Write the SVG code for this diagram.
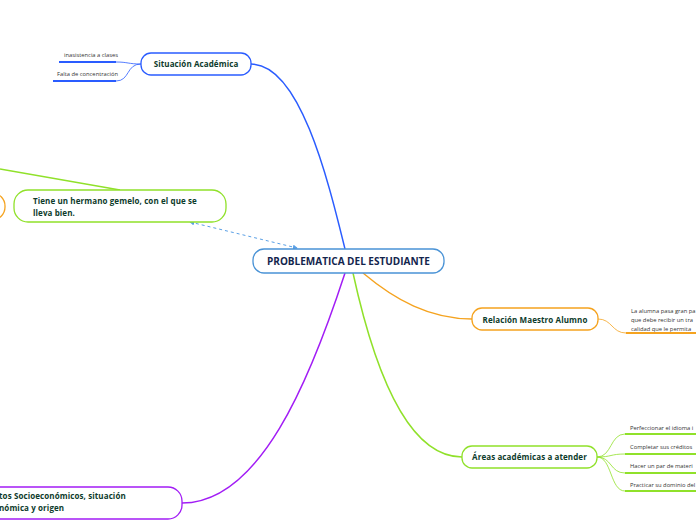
<svg xmlns="http://www.w3.org/2000/svg" width="696" height="520" viewBox="0 0 696 520">
<style>
.node{fill:#fff;stroke-width:1.3}
.t{font-family:"Open Sans","Noto Sans","DejaVu Sans",sans-serif;font-weight:bold;font-size:8px;letter-spacing:0.1px;fill:#0d3b2b}
.c{font-family:"Open Sans","Noto Sans","DejaVu Sans",sans-serif;font-weight:bold;font-size:10px;fill:#13254d}
.s{font-family:"Open Sans","Noto Sans","DejaVu Sans",sans-serif;font-size:5.8px;fill:#333}
.con{fill:none}
</style>
<defs>
<marker id="ah" viewBox="0 0 6 6" refX="5" refY="3" markerWidth="5" markerHeight="5" orient="auto-start-reverse">
<path d="M0,0 L6,3 L0,6 z" fill="#5aa0e6"/>
</marker>
</defs>
<rect width="696" height="520" fill="#fff"/>
<g id="connectors">
<path class="con" d="M251,64 C300,64 328,180 345,249" stroke="#2a5cff" stroke-width="1.5"/>
<path class="con" d="M363,273 C395,300 430,319 472,319" stroke="#f5a31f" stroke-width="1.4"/>
<path class="con" d="M353,273 C372,360 405,457 462,457" stroke="#90e12a" stroke-width="1.5"/>
<path class="con" d="M345,273 C310,380 260,503 182,503" stroke="#a21df5" stroke-width="1.5"/>
<line x1="0" y1="169" x2="120" y2="190" stroke="#90e12a" stroke-width="1.3"/>
<path class="con" d="M190,222 L297,248" stroke="#5aa0e6" stroke-width="1" stroke-dasharray="3,3" marker-start="url(#ah)" marker-end="url(#ah)"/>
<path class="con" d="M141,64 C128,64 128,62 116,62" stroke="#2a5cff" stroke-width="0.8"/>
<path class="con" d="M141,64 C126,64 130,81 116,81" stroke="#2a5cff" stroke-width="0.8"/>
<path class="con" d="M598,319 C612,319 612,333 626,333" stroke="#f5a31f" stroke-width="0.8"/>
<path class="con" d="M597,457 C612,457 610,434 625,434" stroke="#90e12a" stroke-width="0.8"/>
<path class="con" d="M597,457 C612,457 610,454 625,454" stroke="#90e12a" stroke-width="0.8"/>
<path class="con" d="M597,457 C612,457 610,473 625,473" stroke="#90e12a" stroke-width="0.8"/>
<path class="con" d="M597,457 C612,457 610,491 625,491" stroke="#90e12a" stroke-width="0.8"/>
</g>
<g id="center">
<rect class="node" x="253" y="249" width="191" height="24" rx="11" stroke="#4a93d6"/>
<text class="c" x="348.5" y="264.5" text-anchor="middle">PROBLEMATICA DEL ESTUDIANTE</text>
</g>
<g id="situacion">
<rect class="node" x="141" y="53" width="110" height="22" rx="10" stroke="#2a5cff"/>
<text class="t" x="196" y="67" text-anchor="middle">Situación Académica</text>
</g>
<g id="inasistencia">
<line x1="59" y1="62" x2="116" y2="62" stroke="#2a5cff" stroke-width="2"/>
<text class="s" x="64" y="57">inasistencia a clases</text>
</g>
<g id="falta">
<line x1="53" y1="81" x2="116" y2="81" stroke="#2a5cff" stroke-width="2"/>
<text class="s" x="57" y="76">Falta de concentración</text>
</g>
<g id="hermano">
<rect class="node" x="14" y="190" width="212" height="32" rx="14" stroke="#90e12a"/>
<text class="t" x="33" y="204">Tiene un hermano gemelo, con el que se</text>
<text class="t" x="33" y="215.5">lleva bien.</text>
</g>
<g id="orange-left">
<rect class="node" x="-100" y="193" width="105" height="27" rx="13" stroke="#f5a31f"/>
</g>
<g id="relacion">
<rect class="node" x="472" y="308" width="126" height="22" rx="10" stroke="#f5a31f"/>
<text class="t" x="535" y="322.5" text-anchor="middle">Relación Maestro Alumno</text>
</g>
<g id="relacion-text">
<line x1="626" y1="333" x2="696" y2="333" stroke="#f5a31f" stroke-width="2"/>
<text class="s" x="631" y="313">La alumna pasa gran pa</text>
<text class="s" x="631" y="322">que  debe recibir un tra</text>
<text class="s" x="631" y="331">calidad que le permita</text>
</g>
<g id="areas">
<rect class="node" x="462" y="446" width="135" height="22" rx="10" stroke="#90e12a"/>
<text class="t" x="529.5" y="460" text-anchor="middle">Áreas académicas a atender</text>
</g>
<g id="perfeccionar">
<line x1="625" y1="434" x2="696" y2="434" stroke="#90e12a" stroke-width="2"/>
<text class="s" x="630" y="430">Perfeccionar el idioma i</text>
</g>
<g id="completar">
<line x1="625" y1="454" x2="696" y2="454" stroke="#90e12a" stroke-width="2"/>
<text class="s" x="630" y="449">Completar sus créditos</text>
</g>
<g id="hacer">
<line x1="625" y1="473" x2="696" y2="473" stroke="#90e12a" stroke-width="2"/>
<text class="s" x="630" y="468">Hacer un par de materi</text>
</g>
<g id="practicar">
<line x1="625" y1="491" x2="696" y2="491" stroke="#90e12a" stroke-width="2"/>
<text class="s" x="630" y="487">Practicar su dominio del</text>
</g>
<g id="aspectos">
<rect class="node" x="-60" y="487" width="242" height="32" rx="14" stroke="#a21df5"/>
<text class="t" x="-1" y="499">tos Socioeconómicos, situación</text>
<text class="t" x="-1" y="510.5">nómica y origen</text>
</g>
</svg>
